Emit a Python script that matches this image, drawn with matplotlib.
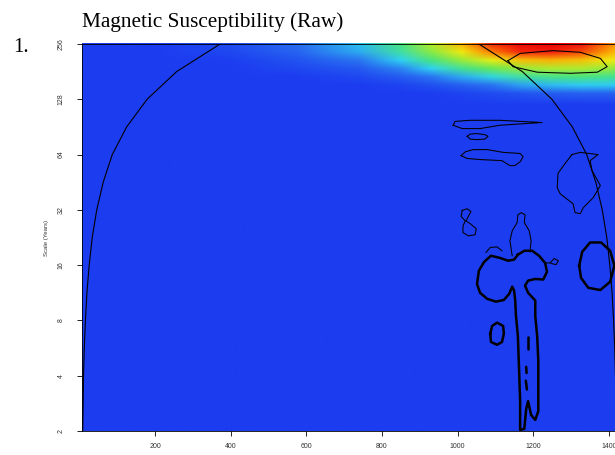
import numpy as np
import matplotlib
matplotlib.use("Agg")
import matplotlib.pyplot as plt
from matplotlib.colors import LinearSegmentedColormap
from matplotlib.image import NonUniformImage

# time axis (years) and log2 of the wavelet scale for the power grid
t_start, t_end = 7, 1421
time_grid = [7, 200, 400, 580, 740, 850, 930, 1010, 1090, 1165, 1245, 1325, 1400, 1421]
scale_grid = [1, 4, 5.5, 6.5, 6.9, 7.1, 7.25, 7.4, 7.55, 7.7, 7.85, 8.0]

power = [
    [0.02, 0.02, 0.02, 0.02, 0.02, 0.02, 0.02, 0.02, 0.02, 0.02, 0.02, 0.02, 0.02, 0.02],
    [0.02, 0.02, 0.02, 0.02, 0.02, 0.02, 0.02, 0.02, 0.02, 0.02, 0.02, 0.02, 0.02, 0.02],
    [0.02, 0.02, 0.03, 0.03, 0.02, 0.02, 0.02, 0.02, 0.02, 0.02, 0.02, 0.02, 0.02, 0.02],
    [0.02, 0.03, 0.04, 0.06, 0.04, 0.03, 0.03, 0.03, 0.03, 0.03, 0.03, 0.03, 0.03, 0.03],
    [0.02, 0.02, 0.03, 0.03, 0.03, 0.03, 0.03, 0.04, 0.04, 0.05, 0.06, 0.06, 0.06, 0.06],
    [0.02, 0.02, 0.02, 0.03, 0.04, 0.05, 0.06, 0.08, 0.10, 0.12, 0.14, 0.15, 0.15, 0.15],
    [0.02, 0.02, 0.03, 0.05, 0.06, 0.08, 0.11, 0.15, 0.19, 0.24, 0.27, 0.29, 0.29, 0.29],
    [0.02, 0.02, 0.04, 0.06, 0.09, 0.14, 0.19, 0.25, 0.32, 0.38, 0.41, 0.42, 0.40, 0.40],
    [0.02, 0.03, 0.05, 0.09, 0.13, 0.21, 0.30, 0.40, 0.48, 0.54, 0.57, 0.57, 0.54, 0.52],
    [0.03, 0.04, 0.07, 0.12, 0.19, 0.30, 0.42, 0.54, 0.64, 0.72, 0.74, 0.72, 0.66, 0.64],
    [0.03, 0.05, 0.09, 0.16, 0.25, 0.38, 0.52, 0.66, 0.82, 0.92, 0.93, 0.88, 0.76, 0.72],
    [0.03, 0.05, 0.10, 0.18, 0.28, 0.42, 0.58, 0.74, 0.92, 0.98, 1.00, 0.95, 0.82, 0.78],
]

# cone of influence: distance from either end of the record, per log2 scale
coi_scale = [1, 1.5, 2, 2.5, 3, 3.5, 4, 4.5, 5, 5.5, 6, 6.5, 7, 7.5, 8, 8.1]
coi_dist = [2, 3, 4, 6, 9, 13, 19, 27, 39, 56, 80, 118, 172, 250, 365, 395]

# significance contours (time, log2 scale)
sig_main_t = [1159, 1176, 1197, 1215, 1231, 1236, 1226, 1205, 1186, 1178, 1186, 1205, 1205,
              1210, 1213, 1213, 1213, 1205, 1194, 1186, 1181, 1176, 1165, 1165, 1162, 1159,
              1154, 1152, 1149, 1144, 1136, 1122, 1101, 1078, 1059, 1051, 1056, 1070, 1088,
              1112, 1133, 1149, 1159]
sig_main_s = [4.19, 4.26, 4.26, 4.17, 4.04, 3.88, 3.74, 3.75, 3.72, 3.63, 3.50, 3.36, 3.08,
              2.72, 2.27, 1.73, 1.36, 1.20, 1.29, 1.54, 1.40, 1.04, 1.02, 1.54, 2.14, 2.72,
              3.08, 3.36, 3.54, 3.61, 3.48, 3.37, 3.34, 3.39, 3.50, 3.66, 3.90, 4.06, 4.17,
              4.13, 4.08, 4.10, 4.19]
sig_small_t = [1086, 1091, 1104, 1120, 1122, 1117, 1104, 1088, 1086]
sig_small_s = [2.76, 2.90, 2.96, 2.90, 2.76, 2.61, 2.56, 2.61, 2.76]
sig_right_t = [1321, 1329, 1350, 1379, 1403, 1414, 1403, 1377, 1345, 1326, 1321]
sig_right_s = [3.99, 4.24, 4.41, 4.41, 4.26, 3.99, 3.70, 3.55, 3.59, 3.77, 3.99]
tail_marks_t = [[1186, 1186], [1181, 1182], [1180, 1183]]
tail_marks_s = [[2.70, 2.48], [2.16, 2.05], [1.91, 1.75]]

# weaker contours
thin_t = [
    [988, 993, 1033, 1111, 1223, 1111, 1059, 1012, 988],
    [1025, 1033, 1051, 1072, 1080, 1072, 1051, 1033, 1025],
    [1009, 1020, 1041, 1078, 1120, 1165, 1173, 1165, 1151, 1138, 1117, 1059, 1025, 1009],
    [1302, 1324, 1371, 1350, 1355, 1377, 1358, 1332, 1324, 1310, 1305, 1271, 1263, 1265,
     1284, 1302],
    [1012, 1025, 1035, 1028, 1022, 1033, 1049, 1046, 1028, 1014, 1014, 1020, 1009, 1012],
    [1144, 1138, 1144, 1157, 1159, 1168, 1178, 1176, 1189, 1194, 1191],
    [1075, 1086, 1104, 1117],
    [1231, 1244, 1255, 1266, 1260, 1247],
    [1133, 1165, 1252, 1324, 1377, 1395, 1369, 1298, 1210, 1146, 1133],
]
thin_s = [
    [6.53, 6.60, 6.62, 6.62, 6.58, 6.53, 6.47, 6.47, 6.53],
    [6.33, 6.37, 6.38, 6.36, 6.33, 6.28, 6.27, 6.28, 6.33],
    [5.98, 6.05, 6.09, 6.09, 6.04, 6.02, 5.96, 5.87, 5.80, 5.80, 5.89, 5.91, 5.93, 5.98],
    [6.00, 6.04, 6.00, 5.89, 5.71, 5.44, 5.22, 5.04, 4.93, 4.95, 5.11, 5.29, 5.40, 5.66,
     5.84, 6.00],
    [4.99, 5.02, 4.97, 4.88, 4.80, 4.75, 4.66, 4.55, 4.53, 4.59, 4.71, 4.80, 4.88, 4.99],
    [4.17, 4.44, 4.62, 4.77, 4.91, 4.95, 4.91, 4.77, 4.62, 4.44, 4.24],
    [4.23, 4.32, 4.33, 4.26],
    [4.04, 4.04, 4.12, 4.08, 4.01, 4.03],
    [7.70, 7.83, 7.88, 7.85, 7.74, 7.59, 7.49, 7.47, 7.49, 7.59, 7.70],
]

ytick_pos = [1, 2, 3, 4, 5, 6, 7, 8]
ytick_lab = ["2", "4", "8", "16", "32", "64", "128", "256"]
xtick_pos = [200, 400, 600, 800, 1000, 1200, 1400]

cmap = LinearSegmentedColormap.from_list("wt", [
    (0.0, "#1c3cf0"), (0.06, "#1c3cf0"), (0.18, "#2a6ff2"), (0.3, "#30d4f0"),
    (0.45, "#50e860"), (0.65, "#f0ee10"), (0.8, "#ff8c00"), (0.95, "#f01010"),
    (1.0, "#ee0000")])

fig = plt.figure(figsize=(6.15, 4.55), dpi=100)
ax = fig.add_axes([82 / 615, 24 / 455, 535 / 615, 387 / 455])

im = NonUniformImage(ax, interpolation="bilinear", cmap=cmap,
                     extent=(t_start, t_end, 1, 8))
im.set_data(np.array(time_grid, float), np.array(scale_grid, float), np.array(power))
im.set_clim(0, 1)
ax.add_image(im)

# cone of influence
ax.plot([t_start + d for d in coi_dist], coi_scale, color="black", lw=0.8)
ax.plot([t_end - d for d in coi_dist], coi_scale, color="black", lw=0.8)

for xs, ys in zip(thin_t, thin_s):
    ax.plot(xs, ys, color="black", lw=0.75)
for xs, ys in [(sig_main_t, sig_main_s), (sig_small_t, sig_small_s),
               (sig_right_t, sig_right_s)]:
    ax.plot(xs, ys, color="black", lw=1.8, solid_joinstyle="round")
for xs, ys in zip(tail_marks_t, tail_marks_s):
    ax.plot(xs, ys, color="black", lw=1.8, solid_capstyle="round")

ax.set_xlim(t_start, t_end)
ax.set_ylim(1, 8)
ax.set_xticks(xtick_pos)
ax.set_xticklabels([str(v) for v in xtick_pos], fontsize=5, family="Liberation Sans",
                   color="#333333")
ax.set_yticks(ytick_pos)
ax.set_yticklabels(ytick_lab, fontsize=5, family="Liberation Sans", rotation=90,
                   va="center", color="#333333")
ax.tick_params(axis="x", length=3.5, width=0.6, pad=5)
ax.tick_params(axis="y", length=3.5, width=0.6, pad=9)
ax.set_ylabel("Scale (Years)", fontsize=4.3, family="Liberation Sans", labelpad=6,
              color="#333333")
for s in ax.spines.values():
    s.set_linewidth(0.6)

fig.text(82 / 615, 1 - 27 / 455, "Magnetic Susceptibility (Raw)", fontsize=15.3,
         family="Liberation Serif", va="baseline", ha="left")
fig.text(13 / 615, 1 - 52 / 455, "1.", fontsize=15, family="Liberation Serif",
         va="baseline", ha="left")

fig.savefig("out.png", dpi=100)
